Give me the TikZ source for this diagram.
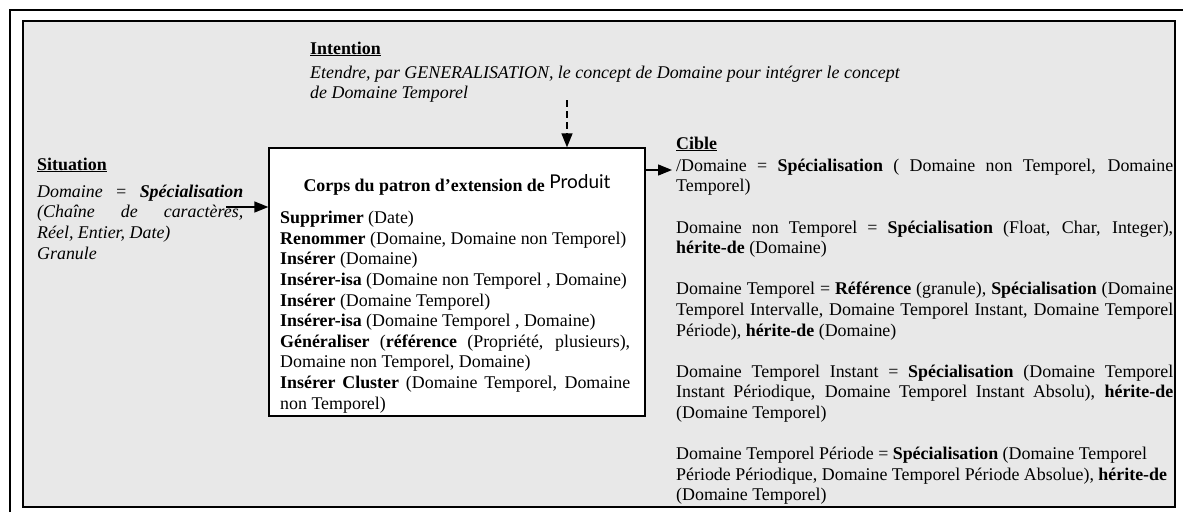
\documentclass[tikz,border=0pt]{standalone}
\usepackage{fontspec}
\setmainfont{Liberation Serif}
\newfontfamily\prodfont{Lato}
\usetikzlibrary{arrows.meta}
\definecolor{panel}{RGB}{232,232,232}
\hyphenpenalty=10000
\exhyphenpenalty=10000
\begin{document}
\begin{tikzpicture}[x=1pt,y=-1pt,
  txt/.style={inner sep=0pt, font=\fontsize{17.9}{20.6}\selectfont},
  para/.style={txt, anchor=north west, align=justify},
  head/.style={txt, anchor=base west, font=\fontsize{17.9}{20.6}\selectfont\bfseries},
  arr/.style={-{Triangle[length=14pt,width=11pt]}, line width=1.3pt},
]
\useasboundingbox (0,0) rectangle (1183,512);
\draw[line width=1.2pt] (10,512) -- (10,10) -- (1183,10);
\draw[fill=panel, line width=1.6pt] (23,21) rectangle (1175,507);
\node[draw, fill=white, line width=1.3pt, minimum width=376pt, minimum height=268pt, inner sep=0pt] (body) at (457,282) {};

% Intention
\node[head] (inth) at (310,54) {\underline{Intention}};
\node[txt, anchor=north west, align=left, font=\fontsize{17.9}{20.6}\selectfont\itshape] (intt) at (310,63.6)
  {\strut Etendre, par GENERALISATION, le concept de Domaine pour intégrer le concept\\ de Domaine Temporel};

% Situation
\node[head] (sith) at (37,170) {\underline{Situation}};
\node[para, text width=206pt, font=\fontsize{17.9}{20.6}\selectfont\itshape] (sitt) at (37,182.6)
  {\strut Domaine = \textbf{Spécialisation}\linebreak (Chaîne de caractères,\linebreak Réel, Entier, Date)\\ Granule};

% Body
\node[txt, anchor=base] (title) at (457,191) {\textbf{Corps du patron d’extension de} \raisebox{3pt}{\prodfont\fontsize{19}{20}\selectfont Produit}};
\node[para, text width=350pt] (bodyt) at (280,209.1)
  {\strut\textbf{Supprimer} (Date)\\
   \textbf{Renommer} (Domaine, Domaine non Temporel)\\
   \textbf{Insérer} (Domaine)\\
   \textbf{Insérer-isa} (Domaine non Temporel , Domaine)\\
   \textbf{Insérer} (Domaine Temporel)\\
   \textbf{Insérer-isa} (Domaine Temporel , Domaine)\\
   \textbf{Généraliser} (\textbf{référence} (Propriété, plusieurs),\linebreak Domaine non Temporel, Domaine)\\
   \textbf{Insérer Cluster} (Domaine Temporel, Domaine\linebreak non Temporel)};

% Cible
\node[head] (cibh) at (676,149) {\underline{Cible}};
\node[para, text width=497pt] (cibt) at (676,156.6)
  {\strut/Domaine = \textbf{Spécialisation} ( Domaine non Temporel, Domaine\linebreak Temporel)\\[20.6pt]
   Domaine non Temporel = \textbf{Spécialisation} (Float, Char, Integer),\linebreak \textbf{hérite-de} (Domaine)\\[20.6pt]
   Domaine Temporel = \textbf{Référence} (granule), \textbf{Spécialisation} (Domaine\linebreak Temporel Intervalle, Domaine Temporel Instant, Domaine Temporel\linebreak Période), \textbf{hérite-de} (Domaine)\\[20.6pt]
   Domaine Temporel Instant = \textbf{Spécialisation} (Domaine Temporel\linebreak Instant Périodique, Domaine Temporel Instant Absolu), \textbf{hérite-de}\linebreak (Domaine Temporel)\\[20.6pt]
   Domaine Temporel Période = \textbf{Spécialisation} (Domaine Temporel\\ Période Périodique, Domaine Temporel Période Absolue), \textbf{hérite-de}\\ (Domaine Temporel)};

% connectors
\coordinate (sitA) at (226,207);
\draw[arr] (sitA) -- (sitA -| body.west);
\coordinate (intA) at (567,100);
\draw[arr, dash pattern=on 7pt off 4pt] (intA) -- (intA |- body.north);
\coordinate (cibA) at (672,170);
\draw[arr] (cibA -| body.east) -- (cibA);
\end{tikzpicture}
\end{document}
